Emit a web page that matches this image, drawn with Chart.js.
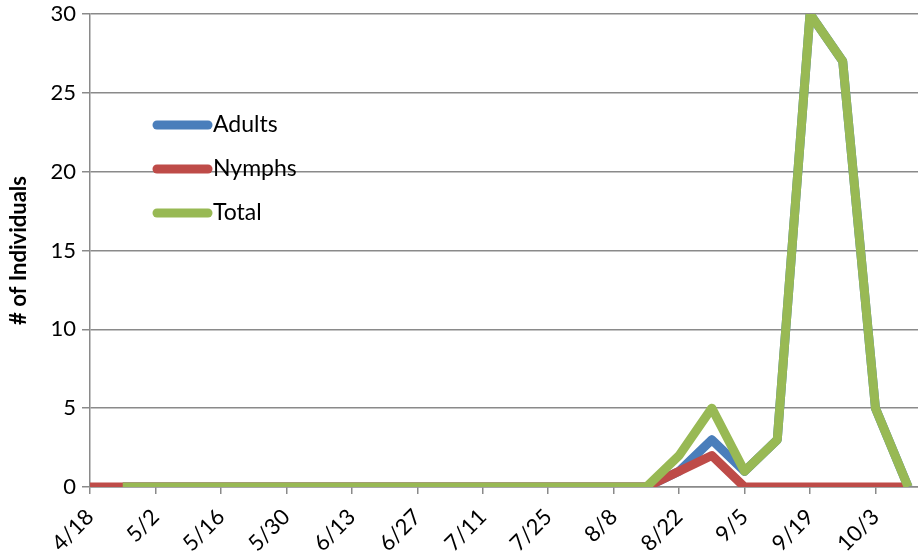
<!DOCTYPE html>
<html>
<head>
<meta charset="utf-8">
<script src="https://cdn.jsdelivr.net/npm/chart.js@4.4.1/dist/chart.umd.min.js"></script>
<style>
  html, body { margin: 0; padding: 0; background: #fff; }
  #wrap { width: 918px; height: 559px; }
</style>
</head>
<body>
<div id="wrap"><canvas id="chart" width="918" height="559"></canvas></div>
<script>
// weekly sample dates
const dates = ['4/18', '4/25', '5/2', '5/9', '5/16', '5/23', '5/30', '6/6', '6/13', '6/20',
  '6/27', '7/4', '7/11', '7/18', '7/25', '8/1', '8/8', '8/15', '8/22', '8/29',
  '9/5', '9/12', '9/19', '9/26', '10/3', '10/10'];
const adults = [null, 0, 0, 0, 0, 0, 0, 0, 0, 0, 0, 0, 0, 0, 0, 0, 0, 0, 1, 3, 1, 3, 30, 27, 5, 0];
const nymphs = [0, 0, 0, 0, 0, 0, 0, 0, 0, 0, 0, 0, 0, 0, 0, 0, 0, 0, 1, 2, 0, 0, 0, 0, 0, 0];
const total = [null, 0, 0, 0, 0, 0, 0, 0, 0, 0, 0, 0, 0, 0, 0, 0, 0, 0, 2, 5, 1, 3, 30, 27, 5, 0];
const yTicks = [0, 5, 10, 15, 20, 25, 30];

const FONT = 'Lato, "Open Sans", sans-serif';
const gridGray = '#8a8a8a';

const toPts = arr => arr.map((v, i) => ({ x: i, y: v }));

const series = [
  { label: 'Adults', data: adults, color: '#4a7ebb' },
  { label: 'Nymphs', data: nymphs, color: '#be4b48' },
  { label: 'Total', data: total, color: '#98b954' },
];

// legend drawn inside the plot, like the original
const insideLegend = {
  id: 'insideLegend',
  afterDraw(chart) {
    const ctx = chart.ctx;
    ctx.save();
    ctx.font = '23px ' + FONT;
    ctx.textBaseline = 'middle';
    ctx.lineCap = 'round';
    ctx.lineWidth = 9;
    series.forEach((s, i) => {
      const y = 125 + i * 44;
      ctx.strokeStyle = s.color;
      ctx.beginPath();
      ctx.moveTo(157, y);
      ctx.lineTo(208, y);
      ctx.stroke();
      ctx.fillStyle = '#000';
      ctx.fillText(s.label, 213, y);
    });
    ctx.restore();
  }
};

new Chart(document.getElementById('chart'), {
  type: 'line',
  data: {
    datasets: series.map((s, i) => ({
      label: s.label,
      data: toPts(s.data),
      borderColor: s.color,
      backgroundColor: s.color,
      borderWidth: 9,
      borderJoinStyle: 'round',
      pointRadius: 0,
      tension: 0,
      spanGaps: false,
      order: series.length - 1 - i
    }))
  },
  options: {
    responsive: false,
    animation: false,
    layout: { padding: { top: 14, right: 0, left: 0, bottom: 0 } },
    plugins: { legend: { display: false }, tooltip: { enabled: false } },
    scales: {
      x: {
        type: 'linear',
        min: 0,
        max: 25.3,
        afterBuildTicks(scale) {
          scale.ticks = dates.map((d, i) => ({ value: i })).filter(t => t.value % 2 === 0);
        },
        afterFit(scale) {
          scale.height = 72;
          scale.paddingLeft = 0;
          scale.paddingRight = 0;
        },
        border: { color: gridGray, width: 1.5 },
        grid: { drawOnChartArea: false, drawTicks: true, tickLength: 7, color: gridGray, lineWidth: 1.5 },
        ticks: {
          color: '#000',
          font: { family: FONT, size: 22 },
          maxRotation: 45,
          minRotation: 45,
          autoSkip: false,
          padding: 10,
          callback: v => dates[v]
        }
      },
      y: {
        min: 0,
        max: 30,
        afterBuildTicks(scale) { scale.ticks = yTicks.map(v => ({ value: v })); },
        afterFit(scale) {
          scale.width = 90;
          scale.paddingTop = 0;
          scale.paddingBottom = 0;
        },
        border: { color: gridGray, width: 1.5 },
        grid: { color: gridGray, lineWidth: 1.5, drawTicks: true, tickLength: 8 },
        ticks: { color: '#000', font: { family: FONT, size: 22 }, padding: 6 },
        title: {
          display: true,
          text: '# of Individuals',
          color: '#000',
          font: { family: FONT, size: 22, weight: 'bold' },
          padding: { top: 6, bottom: 2 }
        }
      }
    }
  },
  plugins: [insideLegend]
});
</script>
</body>
</html>
